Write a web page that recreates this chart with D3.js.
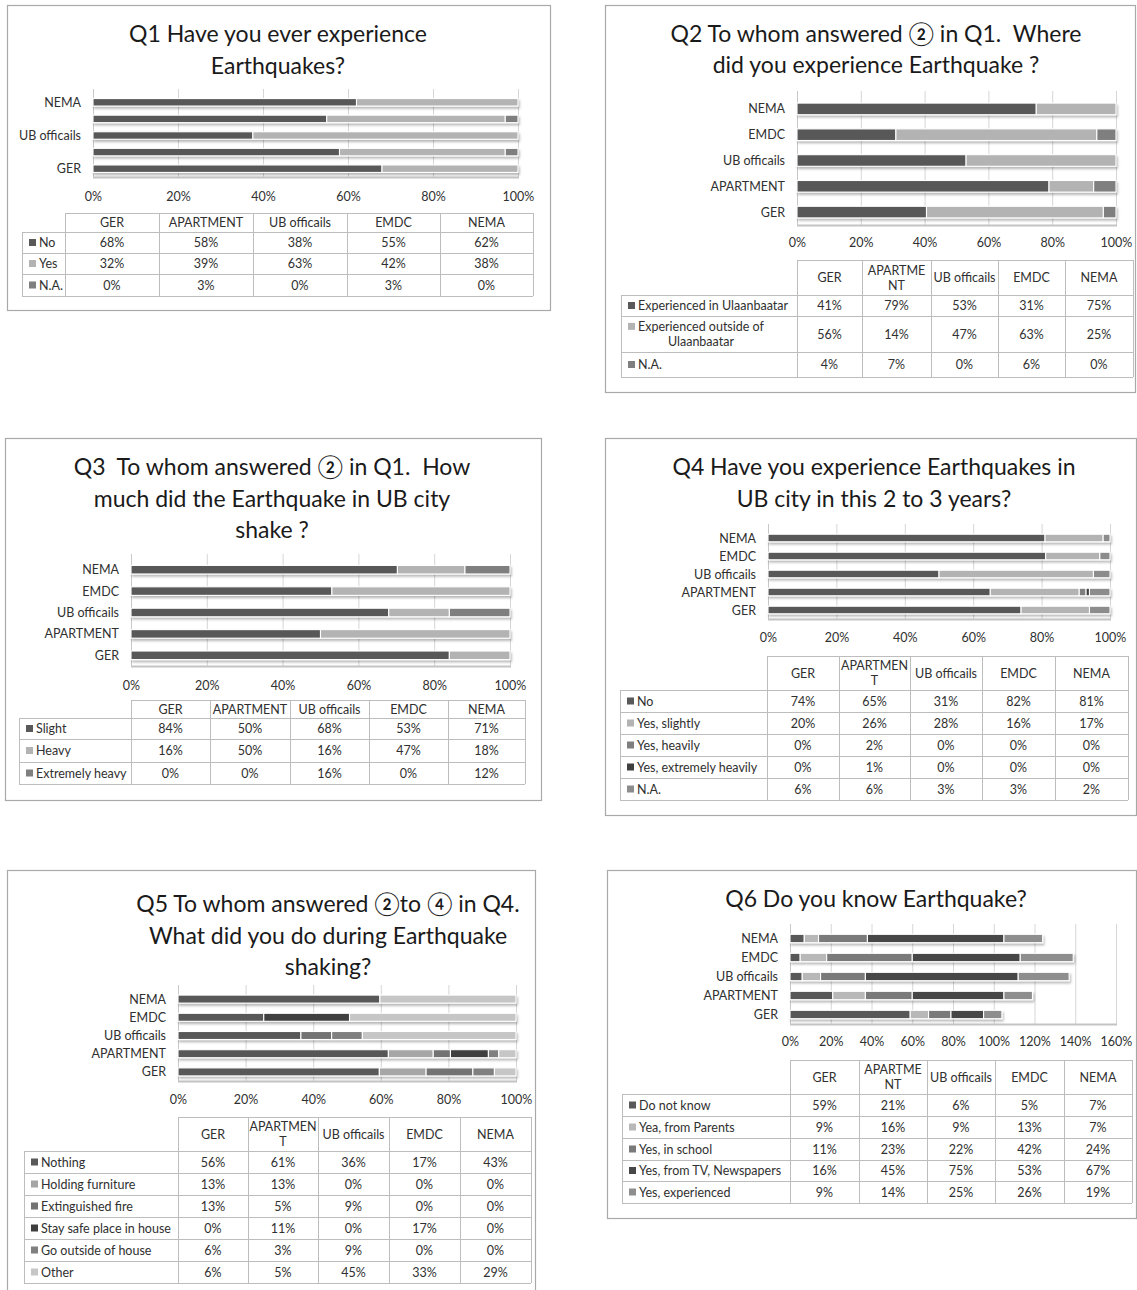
<!DOCTYPE html>
<html>
<head>
<meta charset="utf-8">
<script src="https://cdn.jsdelivr.net/npm/d3@7"></script>
<style>
  body { margin: 0; background: #fff; }
  text { font-family: Lato, "Noto Sans CJK JP", "Open Sans", sans-serif; white-space: pre; }
</style>
</head>
<body>
<svg id="chart" width="1137" height="1290"></svg>
<script>
// Respondent groups, bottom-to-top order of the bars and left-to-right order of the tables
const groups = ["GER", "APARTMENT", "UB officails", "EMDC", "NEMA"];

// Q1 Have you ever experience Earthquakes?
const q1Series = ["No", "Yes", "N.A."];
const q1Values = [[68, 58, 38, 55, 62], [32, 39, 63, 42, 38], [0, 3, 0, 3, 0]];
const q1Headers = ["GER", "APARTMENT", "UB officails", "EMDC", "NEMA"];

// Q2 Where did you experience Earthquake?
const q2Series = ["Experienced in Ulaanbaatar", "Experienced outside of\nUlaanbaatar", "N.A."];
const q2Values = [[41, 79, 53, 31, 75], [56, 14, 47, 63, 25], [4, 7, 0, 6, 0]];
const q2Headers = ["GER", "APARTME\nNT", "UB officails", "EMDC", "NEMA"];

// Q3 How much did the Earthquake in UB city shake?
const q3Series = ["Slight", "Heavy", "Extremely heavy"];
const q3Values = [[84, 50, 68, 53, 71], [16, 50, 16, 47, 18], [0, 0, 16, 0, 12]];
const q3Headers = ["GER", "APARTMENT", "UB officails", "EMDC", "NEMA"];

// Q4 Earthquakes in UB city in the last 2 to 3 years
const q4Series = ["No", "Yes, slightly", "Yes, heavily", "Yes, extremely heavily", "N.A."];
const q4Values = [[74, 65, 31, 82, 81], [20, 26, 28, 16, 17], [0, 2, 0, 0, 0], [0, 1, 0, 0, 0], [6, 6, 3, 3, 2]];
const q4Headers = ["GER", "APARTMEN\nT", "UB officails", "EMDC", "NEMA"];

// Q5 What did you do during Earthquake shaking?
const q5Series = ["Nothing", "Holding furniture", "Extinguished fire", "Stay safe place in house", "Go outside of house", "Other"];
const q5Values = [[56, 61, 36, 17, 43], [13, 13, 0, 0, 0], [13, 5, 9, 0, 0], [0, 11, 0, 17, 0], [6, 3, 9, 0, 0], [6, 5, 45, 33, 29]];
const q5Headers = ["GER", "APARTMEN\nT", "UB officails", "EMDC", "NEMA"];

// Q6 Do you know Earthquake? (multiple answers, not normalised)
const q6Series = ["Do not know", "Yea, from Parents", "Yes, in school", "Yes, from TV, Newspapers", "Yes, experienced"];
const q6Values = [[59, 21, 6, 5, 7], [9, 16, 9, 13, 7], [11, 23, 22, 42, 24], [16, 45, 75, 53, 67], [9, 14, 25, 26, 19]];
const q6Headers = ["GER", "APARTME\nNT", "UB officails", "EMDC", "NEMA"];

const percentTicks100 = [0, 0.2, 0.4, 0.6, 0.8, 1.0];
const percentTicks160 = [0, 20, 40, 60, 80, 100, 120, 140, 160];

const svg = d3.select("#chart");
const defs = svg.append("defs");
defs.append("filter").attr("id", "barShadow")
  .attr("x", "-5%").attr("y", "-50%").attr("width", "110%").attr("height", "200%")
  .append("feDropShadow")
  .attr("dx", 1.2).attr("dy", 2.2).attr("stdDeviation", 0.9)
  .attr("flood-color", "#000").attr("flood-opacity", 0.28);

const GRID = "#d6d6d6";
const TABLE_LINE = "#bdbdbd";
const TEXT = "#303030";

function drawPanel(cfg) {
  const g = svg.append("g");

  // frame
  g.append("rect")
    .attr("x", cfg.box[0] + 0.5).attr("y", cfg.box[1] + 0.5)
    .attr("width", cfg.box[2]).attr("height", cfg.box[3])
    .attr("fill", "#fff").attr("stroke", "#a9a9a9").attr("stroke-width", 1.2);

  // title
  cfg.title.forEach((line, i) => {
    g.append("text")
      .attr("x", cfg.titleX).attr("y", cfg.titleY[i])
      .attr("text-anchor", "middle").attr("dominant-baseline", "central")
      .attr("font-size", 23).attr("fill", "#1a1a1a")
      .text(line);
  });

  const order = groups.slice().reverse();
  const x = d3.scaleLinear().domain(cfg.domain).range([cfg.x0, cfg.x1]);
  const y = d3.scaleBand().domain(order).range([cfg.top, cfg.bottom]).paddingInner(cfg.pad).paddingOuter(cfg.pad / 2);

  // rows of data per group for the stack layout
  const rows = groups.map((grp, j) => {
    const r = { group: grp };
    cfg.series.forEach((s, k) => { r[k] = cfg.values[k][j]; });
    return r;
  });
  const keys = cfg.series.map((s, k) => k);
  const stack = d3.stack().keys(keys)
    .offset(cfg.normalize ? d3.stackOffsetExpand : d3.stackOffsetNone);
  const layers = stack(rows);

  // gridlines
  const gridG = g.append("g");
  gridG.selectAll("line.grid").data(cfg.ticks).join("line")
    .attr("x1", d => x(d) + 0.5).attr("x2", d => x(d) + 0.5)
    .attr("y1", cfg.top - 5).attr("y2", cfg.bottom)
    .attr("stroke", GRID).attr("stroke-width", 1);
  gridG.append("line")
    .attr("x1", cfg.x0).attr("x2", x(cfg.domain[1]) + 1)
    .attr("y1", cfg.bottom + 0.5).attr("y2", cfg.bottom + 0.5)
    .attr("stroke", "#c4c4c4").attr("stroke-width", 2);
  gridG.append("line")
    .attr("x1", cfg.x0 + 0.5).attr("x2", cfg.x0 + 0.5)
    .attr("y1", cfg.top - 5).attr("y2", cfg.bottom)
    .attr("stroke", "#c8c8c8").attr("stroke-width", 1);

  // bars
  const barsG = g.append("g").attr("filter", "url(#barShadow)");
  layers.forEach((layer, k) => {
    barsG.selectAll(null).data(layer.filter(d => d[1] - d[0] > 0)).join("rect")
      .attr("x", d => x(d[0]))
      .attr("width", d => Math.max(0, x(d[1]) - x(d[0])))
      .attr("y", d => y(d.data.group))
      .attr("height", y.bandwidth())
      .attr("fill", cfg.colors[k])
      .attr("stroke", "#fff").attr("stroke-width", 1.1);
  });

  // category labels
  g.selectAll(null).data(order.filter((d, i) => !cfg.labelEvery || (groups.length - 1 - i) % cfg.labelEvery === 0))
    .join("text")
    .attr("x", cfg.x0 - 12).attr("y", d => y(d) + y.bandwidth() / 2)
    .attr("text-anchor", "end").attr("dominant-baseline", "central")
    .attr("font-size", 12.5).attr("fill", TEXT)
    .text(d => d);

  // value axis labels
  const axis = d3.axisBottom(x).tickValues(cfg.ticks).tickSize(0)
    .tickFormat(cfg.normalize ? d3.format(".0%") : d => d + "%");
  const axG = g.append("g").attr("transform", `translate(0,${cfg.tickY})`).call(axis);
  axG.select(".domain").remove();
  axG.selectAll("text").attr("font-size", 12.5).attr("fill", TEXT)
    .attr("font-family", "Lato, sans-serif").attr("dy", "0.35em").attr("y", 0);

  // data table
  const cx = cfg.cols;           // column boundaries, first = right edge of label column
  const ry = cfg.rows;           // row boundaries, first = top of header
  const left = cfg.tableLeft;
  const right = cx[cx.length - 1];
  const t = g.append("g");
  ry.forEach((yy, i) => {
    t.append("line").attr("x1", i === 0 ? cx[0] : left).attr("x2", right)
      .attr("y1", yy + 0.5).attr("y2", yy + 0.5)
      .attr("stroke", TABLE_LINE).attr("stroke-width", 1);
  });
  cx.forEach(xx => {
    t.append("line").attr("x1", xx + 0.5).attr("x2", xx + 0.5)
      .attr("y1", ry[0]).attr("y2", ry[ry.length - 1])
      .attr("stroke", TABLE_LINE).attr("stroke-width", 1);
  });
  t.append("line").attr("x1", left + 0.5).attr("x2", left + 0.5)
    .attr("y1", ry[1]).attr("y2", ry[ry.length - 1])
    .attr("stroke", TABLE_LINE).attr("stroke-width", 1);

  const fs = cfg.tableFont || 12.5;
  const multiline = (sel, txt, xPos, yMid, anchor) => {
    const lines = txt.split("\n");
    const lh = fs * 1.2;
    lines.forEach((ln, i) => {
      sel.append("text")
        .attr("x", xPos).attr("y", yMid + (i - (lines.length - 1) / 2) * lh)
        .attr("text-anchor", anchor).attr("dominant-baseline", "central")
        .attr("font-size", fs).attr("fill", TEXT).text(ln);
    });
  };

  // header row
  cfg.headers.forEach((h, j) => {
    multiline(t, h, (cx[j] + cx[j + 1]) / 2, (ry[0] + ry[1]) / 2, "middle");
  });

  // series rows
  cfg.series.forEach((s, k) => {
    const yMid = (ry[k + 1] + ry[k + 2]) / 2;
    const lines = s.split("\n");
    const half = fs * 0.61;
    t.append("rect").attr("x", left + 7).attr("y", yMid - 3.5 - (lines.length - 1) * half)
      .attr("width", 7).attr("height", 7).attr("fill", cfg.colors[k]);
    if (lines.length === 1) {
      t.append("text").attr("x", left + 17).attr("y", yMid)
        .attr("dominant-baseline", "central").attr("font-size", fs).attr("fill", TEXT).text(s);
    } else {
      const first = t.append("text").attr("x", left + 17).attr("y", yMid - half)
        .attr("dominant-baseline", "central").attr("font-size", fs).attr("fill", TEXT).text(lines[0]);
      const w = first.node().getComputedTextLength();
      t.append("text").attr("x", left + 17 + w / 2).attr("y", yMid + half)
        .attr("text-anchor", "middle").attr("dominant-baseline", "central")
        .attr("font-size", fs).attr("fill", TEXT).text(lines[1]);
    }
    cfg.values[k].forEach((v, j) => {
      t.append("text").attr("x", (cx[j] + cx[j + 1]) / 2).attr("y", yMid)
        .attr("text-anchor", "middle").attr("dominant-baseline", "central")
        .attr("font-size", fs).attr("fill", TEXT).text(v + "%");
    });
  });
}

const grey3 = ["#595959", "#b3b3b3", "#7f7f7f"];

drawPanel({
  box: [7, 5, 543, 305],
  title: ["Q1 Have you ever experience", "Earthquakes?"], titleX: 278, titleY: [33, 65],
  series: q1Series, values: q1Values, headers: q1Headers, colors: grey3,
  normalize: true, domain: [0, 1], ticks: percentTicks100,
  x0: 93, x1: 518, top: 94, bottom: 177, pad: 0.55, tickY: 197, labelEvery: 2,
  tableLeft: 22, cols: [65, 159, 253, 347, 440, 533], rows: [213, 232, 253, 274, 296]
});

drawPanel({
  box: [605, 5, 530, 387],
  title: ["Q2 To whom answered \u2461 in Q1.  Where", "did you experience Earthquake ?"], titleX: 876, titleY: [33, 64],
  series: q2Series, values: q2Values, headers: q2Headers, colors: grey3,
  normalize: true, domain: [0, 1], ticks: percentTicks100,
  x0: 797, x1: 1116, top: 96, bottom: 225, pad: 0.55, tickY: 243,
  tableLeft: 621, cols: [797, 862, 931, 998, 1065, 1133], rows: [260, 295, 316, 352, 377]
});

drawPanel({
  box: [5, 438, 536, 362],
  title: ["Q3  To whom answered \u2461 in Q1.  How", "much did the Earthquake in UB city", "shake ?"], titleX: 272, titleY: [466, 498, 529],
  series: q3Series, values: q3Values, headers: q3Headers, colors: grey3,
  normalize: true, domain: [0, 1], ticks: percentTicks100,
  x0: 131, x1: 510, top: 559, bottom: 666, pad: 0.6, tickY: 686,
  tableLeft: 19, cols: [131, 210, 290, 369, 448, 525], rows: [700, 718, 739, 762, 784]
});

drawPanel({
  box: [605, 438, 531, 377],
  title: ["Q4 Have you experience Earthquakes in", "UB city in this 2 to 3 years?"], titleX: 874, titleY: [466, 498],
  series: q4Series, values: q4Values, headers: q4Headers,
  colors: ["#595959", "#b3b3b3", "#7f7f7f", "#3f3f3f", "#8c8c8c"],
  normalize: true, domain: [0, 1], ticks: percentTicks100,
  x0: 768, x1: 1110, top: 529, bottom: 619, pad: 0.58, tickY: 638,
  tableLeft: 620, cols: [767, 839, 910, 982, 1055, 1128], rows: [656, 690, 712, 734, 756, 778, 800]
});

drawPanel({
  box: [7, 870, 528, 425],
  title: ["Q5 To whom answered \u2461to \u2463 in Q4.", "What did you do during Earthquake", "shaking?"], titleX: 328, titleY: [903, 935, 966],
  series: q5Series, values: q5Values, headers: q5Headers,
  colors: ["#595959", "#a6a6a6", "#737373", "#3f3f3f", "#808080", "#c6c6c6"],
  normalize: true, domain: [0, 1], ticks: percentTicks100,
  x0: 178, x1: 516, top: 990, bottom: 1081, pad: 0.56, tickY: 1100,
  tableLeft: 24, cols: [178, 248, 318, 389, 460, 531], rows: [1117, 1151, 1173, 1195, 1217, 1239, 1261, 1283]
});

drawPanel({
  box: [607, 870, 529, 348],
  title: ["Q6 Do you know Earthquake?"], titleX: 876, titleY: [898],
  series: q6Series, values: q6Values, headers: q6Headers,
  colors: ["#595959", "#b8b8b8", "#7a7a7a", "#474747", "#8e8e8e"],
  normalize: false, domain: [0, 160], ticks: percentTicks160,
  x0: 790, x1: 1116, top: 929, bottom: 1024, pad: 0.56, tickY: 1042,
  tableLeft: 622, cols: [790, 859, 927, 995, 1064, 1132], rows: [1060, 1094, 1116, 1138, 1160, 1181, 1203]
});
</script>
</body>
</html>
